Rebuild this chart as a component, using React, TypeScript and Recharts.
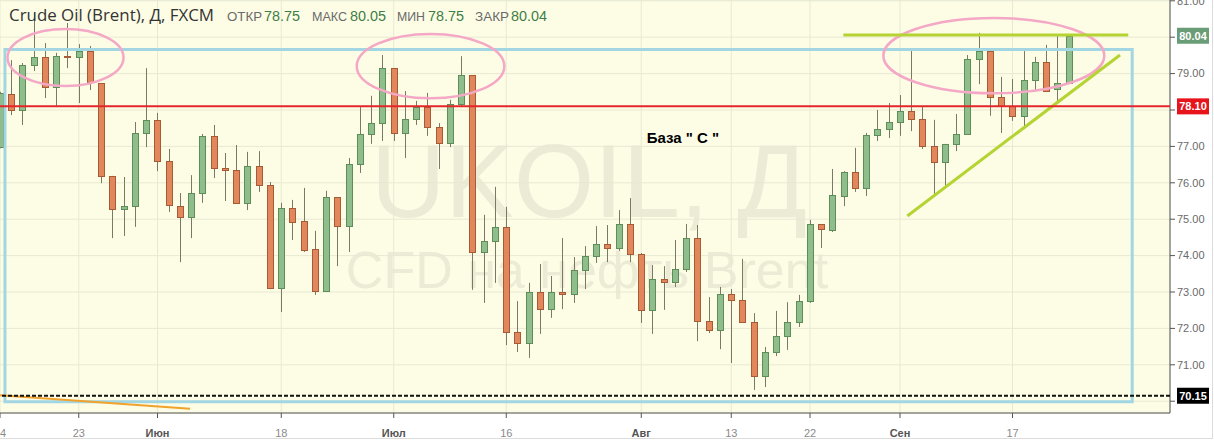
import React from "react";
import {
  ComposedChart,
  Bar,
  XAxis,
  YAxis,
  CartesianGrid,
  ReferenceLine,
  ReferenceArea,
  ReferenceDot,
} from "recharts";

// UKOIL daily candles, 14 May .. 24 Sep (index = trading day)
const opens = [
  76.98, 78.44, 78.0, 79.24, 79.46, 78.63, 79.48, 79.46, 79.62, 78.74,
  76.19, 75.28, 75.36, 77.37, 77.73, 76.6, 75.36, 75.06, 75.72, 77.29,
  76.41, 76.35, 75.45, 76.46, 75.94, 73.11, 75.31, 74.95, 74.18, 73.03,
  75.61, 74.81, 76.52, 77.34, 77.64, 79.15, 77.37, 77.75, 78.08, 77.53,
  77.09, 78.17, 78.96, 74.1, 74.4, 74.79, 71.9, 71.6, 73.0, 72.53,
  73.0, 72.95, 73.6, 73.99, 74.32, 74.21, 74.87, 74.04, 72.51, 73.36,
  73.27, 73.63, 74.48, 72.2, 71.96, 72.95, 72.78, 72.18, 70.69, 71.35,
  71.79, 72.18, 72.75, 74.87, 74.7, 75.64, 76.3, 75.86, 77.31, 77.48,
  77.67, 77.97, 77.75, 77.01, 76.57, 77.07, 77.34, 79.4, 79.62, 78.36,
  78.11, 77.84, 78.82, 79.32, 78.58, 78.75,
];
const highs = [
  78.5, 79.37, 79.29, 80.68, 79.84, 79.57, 80.39, 79.81, 79.76, 78.74,
  76.19, 76.16, 77.67, 79.15, 77.92, 76.93, 75.72, 76.21, 77.34, 77.59,
  76.82, 77.04, 76.85, 76.87, 76.02, 75.45, 75.53, 75.86, 74.68, 75.78,
  75.61, 76.68, 78.08, 78.39, 79.51, 79.15, 78.52, 78.25, 78.47, 77.64,
  78.28, 79.48, 78.96, 75.12, 75.89, 75.34, 72.75, 73.25, 73.77, 73.44,
  74.48, 73.96, 74.26, 74.81, 74.84, 75.25, 75.58, 74.07, 73.74, 73.71,
  74.43, 74.87, 74.84, 72.86, 73.14, 73.08, 73.91, 72.42, 71.49, 72.48,
  72.72, 72.92, 74.98, 74.87, 76.38, 76.32, 76.96, 77.37, 78.0, 78.19,
  78.41, 79.62, 78.08, 77.73, 77.07, 77.89, 79.51, 80.12, 79.62, 78.91,
  78.85, 79.62, 79.46, 79.79, 80.06, 80.05,
];
const lows = [
  76.95, 77.86, 77.59, 79.07, 78.33, 78.08, 79.15, 78.19, 78.55, 75.99,
  74.48, 74.54, 74.79, 76.98, 76.32, 75.2, 73.82, 74.48, 75.45, 76.13,
  75.5, 75.45, 75.25, 75.75, 73.08, 72.45, 74.43, 74.1, 72.92, 73.03,
  73.71, 74.1, 76.27, 77.07, 77.15, 77.15, 76.68, 77.59, 77.29, 76.38,
  76.98, 78.08, 73.06, 72.7, 73.25, 71.54, 71.35, 71.19, 71.85, 72.29,
  72.53, 72.7, 73.08, 73.8, 73.82, 74.13, 73.82, 72.15, 71.85, 72.51,
  73.14, 73.55, 71.65, 71.87, 71.43, 71.05, 72.15, 70.31, 70.39, 71.24,
  71.41, 72.04, 72.7, 74.21, 74.65, 75.36, 75.75, 75.64, 77.15, 77.23,
  77.29, 77.42, 76.93, 75.67, 75.86, 76.87, 77.34, 78.71, 77.84, 77.37,
  77.7, 77.53, 78.55, 78.5, 78.22, 78.75,
];
const closes = [
  78.47, 78.0, 79.24, 79.46, 78.63, 79.48, 79.46, 79.62, 78.77, 76.19,
  75.28, 75.36, 77.37, 77.73, 76.6, 75.39, 75.06, 75.72, 77.29, 76.41,
  76.35, 75.45, 76.46, 75.94, 73.11, 75.31, 74.92, 74.15, 73.03, 75.61,
  74.81, 76.52, 77.34, 77.64, 79.15, 77.37, 77.75, 78.08, 77.53, 77.09,
  78.17, 78.96, 74.1, 74.4, 74.79, 71.9, 71.6, 73.0, 72.53, 73.0,
  72.95, 73.6, 73.99, 74.32, 74.21, 74.87, 74.04, 72.51, 73.36, 73.27,
  73.63, 74.48, 72.2, 71.96, 72.95, 72.78, 72.18, 70.69, 71.35, 71.79,
  72.18, 72.75, 74.87, 74.73, 75.67, 76.3, 75.86, 77.31, 77.48, 77.67,
  77.97, 77.75, 77.01, 76.57, 77.07, 77.34, 79.4, 79.62, 78.36, 78.11,
  77.84, 78.82, 79.32, 78.52, 78.74, 80.04,
];

const tickIndex = [0, 7, 14, 25, 35, 45, 57, 65, 72, 80, 90];
const tickLabels = ["14", "23", "Июн", "18", "Июл", "16", "Авг", "13", "22", "Сен", "17"];
const monthLabels = ["Июн", "Июл", "Авг", "Сен"];
const priceTicks = [70, 71, 72, 73, 74, 75, 76, 77, 78, 79, 80, 81];

const resistance = 78.1;
const support = 70.15;
const topLine = 80.06;

const GREEN = "#8fbd8c";
const GREEN_EDGE = "#5d8d58";
const RED = "#e1875b";
const RED_EDGE = "#a65a35";
const WICK = "#7a7a64";
const PINK = "#f4a8c6";
const LIME = "#b6d334";
const BLUE = "#a3d6e3";
const BG = "#fdfde6";
const GRID = "#e8e9d2";
const FONT = '"Liberation Sans", Arial, sans-serif';

const rows = opens.map((o, i) => ({
  i,
  open: o,
  high: highs[i],
  low: lows[i],
  close: closes[i],
}));

const last = rows[rows.length - 1];
const tagPrices = [last.close, resistance, support];

const Candle = (props: any) => {
  const { x, y, width, height, payload } = props;
  if (x == null || payload == null) return null;
  const cx = Math.round(x + width / 2) + 0.5;
  const top = Math.min(y, y + height);
  const span = Math.abs(height);
  const range = payload.high - payload.low;
  const k = range > 0 ? span / range : 0;
  const up = payload.close >= payload.open;
  const bTop = top + (payload.high - Math.max(payload.open, payload.close)) * k;
  const bBot = top + (payload.high - Math.min(payload.open, payload.close)) * k;
  return (
    <g>
      <line x1={cx} x2={cx} y1={top} y2={top + span} stroke={WICK} strokeWidth={1} />
      <rect
        x={cx - 3}
        y={Math.round(bTop) + 0.5}
        width={6}
        height={Math.max(Math.round(bBot - bTop), 1)}
        fill={up ? GREEN : RED}
        stroke={up ? GREEN_EDGE : RED_EDGE}
        strokeWidth={1}
      />
    </g>
  );
};

const Oval = (p: any) => (
  <ellipse
    cx={p.x + p.width / 2}
    cy={p.y + p.height / 2}
    rx={Math.abs(p.width) / 2}
    ry={Math.abs(p.height) / 2}
    fill="none"
    stroke={PINK}
    strokeWidth={2.5}
  />
);

const priceTag = (text: string, fill: string) => (props: any) => {
  const vb = props.viewBox || {};
  const ty = vb.y;
  const tx = vb.x + vb.width + 7;
  return (
    <g>
      <rect x={tx} y={ty - 8} width={32} height={16} fill={fill} />
      <text x={tx + 16} y={ty + 4} textAnchor="middle" fontSize={11} fontWeight="bold" fill="#fff" fontFamily={FONT}>
        {text}
      </text>
    </g>
  );
};

const XTick = (props: any) => {
  const { x, y, payload } = props;
  const label = tickLabels[tickIndex.indexOf(payload.value)] ?? "";
  const month = monthLabels.includes(label);
  return (
    <text
      x={x}
      y={y}
      dy="0.71em"
      textAnchor="middle"
      fontSize={11}
      fontFamily={FONT}
      fontWeight={month ? "bold" : "normal"}
      fill={month ? "#555" : "#8a8a8a"}
    >
      {label}
    </text>
  );
};

// labels hidden behind the price tags are not drawn
const YTick = (props: any) => {
  const { x, y, payload } = props;
  const v = Number(payload.value);
  if (tagPrices.some((p) => Math.abs(p - v) < 0.3)) return <g />;
  return (
    <text x={x} y={y} dy="0.35em" textAnchor="start" fontSize={11} fontFamily={FONT} fill="#6a6a6a">
      {v.toFixed(2)}
    </text>
  );
};

const header = [
  { label: "ОТКР", value: last.open, lx: 227, lw: 35, vx: 264 },
  { label: "МАКС", value: last.high, lx: 312, lw: 35, vx: 350 },
  { label: "МИН", value: last.low, lx: 397, lw: 28, vx: 428 },
  { label: "ЗАКР", value: last.close, lx: 475, lw: 34, vx: 511 },
];

export default function App() {
  return (
    <div style={{ position: "relative", width: 1214, height: 440, background: "#fff", overflow: "hidden" }}>
      <style>{`body{margin:0}`}</style>
      <div style={{ position: "absolute", left: 0, top: 0, width: 1170, height: 413, background: BG }} />
      <svg width={1170} height={413} style={{ position: "absolute", left: 0, top: 0 }}>
        <text x={589} y={217} textAnchor="middle" fontSize={103} fontFamily={FONT} fill="#ebebd6">
          UKOIL, Д
        </text>
        <text x={587} y={288} textAnchor="middle" fontSize={52} fontFamily={FONT} fill="#ebebd6">
          CFD на нефть Brent
        </text>
      </svg>
      <ComposedChart
        width={1214}
        height={440}
        data={rows}
        margin={{ top: 0, right: 0, bottom: 0, left: 0 }}
      >
        <CartesianGrid stroke={GRID} />
        <XAxis
          dataKey="i"
          type="number"
          domain={[0, 104]}
          allowDataOverflow
          ticks={tickIndex}
          interval={0}
          height={27}
          tickSize={5}
          tickMargin={11}
          tick={<XTick />}
          stroke="#555"
        />
        <YAxis
          orientation="right"
          type="number"
          domain={[69.676, 81.022]}
          allowDataOverflow
          ticks={priceTicks}
          interval={0}
          width={44}
          tickSize={5}
          tickMargin={2}
          tick={<YTick />}
          stroke="#555"
        />
        <Bar
          dataKey={(d: any) => [d.low, d.high]}
          shape={Candle}
          barSize={7}
          isAnimationActive={false}
        />
        <ReferenceArea
          x1={0.44}
          x2={100.64}
          y1={69.986}
          y2={79.662}
          fill="none"
          stroke={BLUE}
          strokeWidth={3}
          zIndex={1000}
        />
        <ReferenceArea x1={0.67} x2={10.98} y1={78.659} y2={80.225} shape={Oval} zIndex={1000} />
        <ReferenceArea x1={31.71} x2={44.83} y1={78.321} y2={80.088} shape={Oval} zIndex={1000} />
        <ReferenceArea x1={78.52} x2={98.16} y1={78.459} y2={80.527} shape={Oval} zIndex={1000} />
        <ReferenceLine
          segment={[
            { x: 74.96, y: topLine },
            { x: 100.29, y: topLine },
          ]}
          stroke={LIME}
          strokeWidth={3}
          zIndex={1000}
        />
        <ReferenceLine
          segment={[
            { x: 80.65, y: 75.088 },
            { x: 99.56, y: 79.511 },
          ]}
          stroke={LIME}
          strokeWidth={3}
          zIndex={1000}
        />
        <ReferenceLine
          segment={[
            { x: 0, y: 70.162 },
            { x: 16.89, y: 69.794 },
          ]}
          stroke="#f0a22c"
          strokeWidth={2}
          zIndex={1000}
        />
        <ReferenceLine
          y={resistance}
          stroke="#e3262a"
          strokeWidth={2}
          zIndex={1000}
          label={priceTag(resistance.toFixed(2), "#e8141c")}
        />
        <ReferenceLine
          y={support}
          stroke="#111"
          strokeWidth={2}
          strokeDasharray="4 2"
          zIndex={1000}
          label={priceTag(support.toFixed(2), "#000")}
        />
        <ReferenceLine
          y={last.close}
          stroke="none"
          strokeOpacity={0}
          zIndex={1000}
          label={priceTag(last.close.toFixed(2), "#6a9c77")}
        />
        <ReferenceDot
          x={60.71}
          y={77.23}
          r={0}
          fill="none"
          stroke="none"
          zIndex={1000}
          label={{ value: 'База  " С "', position: "center", fill: "#000", fontSize: 15, fontWeight: "bold", fontFamily: FONT }}
        />
      </ComposedChart>
      <svg width={560} height={30} style={{ position: "absolute", left: 0, top: 0 }}>
        <text x={9} y={21} fontSize={16} fontFamily='"Open Sans", sans-serif' fill="#333" textLength={205} lengthAdjust="spacingAndGlyphs">
          Crude Oil (Brent), Д, FXCM
        </text>
        {header.map((h) => (
          <g key={h.label}>
            <text x={h.lx} y={21} fontSize={13} fontFamily={FONT} fill="#6a6a6a" textLength={h.lw} lengthAdjust="spacingAndGlyphs">
              {h.label}
            </text>
            <text x={h.vx} y={21} fontSize={14} fontFamily={FONT} fill="#3d7d45" textLength={36} lengthAdjust="spacingAndGlyphs">
              {h.value.toFixed(2)}
            </text>
          </g>
        ))}
      </svg>
      <div
        style={{
          position: "absolute",
          left: 0,
          top: 0,
          width: 1212,
          height: 438,
          borderRight: "1px solid #dcdcdc",
          borderBottom: "1px solid #dcdcdc",
          pointerEvents: "none",
        }}
      />
    </div>
  );
}
